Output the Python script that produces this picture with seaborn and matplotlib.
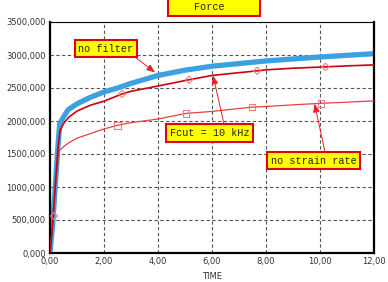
import matplotlib
matplotlib.use("Agg")
import matplotlib.pyplot as plt
import seaborn as sns
import pandas as pd
from matplotlib.patches import Rectangle

# ---------------- data ----------------
t_blue = [0, 0.1, 0.2, 0.3, 0.36, 0.5, 0.67, 1.0, 1.5, 2.0, 2.5, 3.0, 3.5, 4.0,
          4.5, 5.0, 6.0, 7.0, 8.0, 9.0, 10.0, 11.0, 12.0]
f_blue = [0, 450, 1050, 1650, 1960, 2060, 2170, 2260, 2360, 2440, 2500, 2570, 2630,
          2690, 2730, 2770, 2830, 2870, 2910, 2940, 2970, 2995, 3020]

t_fcut = [0, 0.1, 0.2, 0.3, 0.37, 0.5, 0.7, 1.0, 1.5, 2.0, 2.67, 3.0, 4.0, 5.15,
          6.0, 7.67, 8.0, 9.0, 10.2, 11.0, 12.0]
f_fcut = [0, 450, 1050, 1600, 1850, 1960, 2060, 2150, 2240, 2300, 2410, 2450, 2530,
          2625, 2690, 2760, 2775, 2800, 2820, 2835, 2850]

t_nosr = [0, 0.1, 0.2, 0.33, 0.5, 0.7, 1.0, 1.5, 2.0, 2.5, 3.0, 4.0, 5.03, 6.0,
          7.48, 8.0, 9.0, 10.04, 11.0, 12.0]
f_nosr = [0, 450, 1000, 1545, 1610, 1670, 1740, 1810, 1880, 1935, 1975, 2030, 2115,
          2145, 2210, 2220, 2245, 2268, 2285, 2305]

mk_fcut_t = [0.15, 2.67, 5.15, 7.67, 10.2]
mk_fcut_f = [560, 2410, 2625, 2760, 2820]
mk_nosr_t = [2.5, 5.03, 7.48, 10.04]
mk_nosr_f = [1935, 2115, 2210, 2268]

x_ticks = [0, 2, 4, 6, 8, 10, 12]
x_tick_labels = ["0,00", "2,00", "4,00", "6,00", "8,00", "10,00", "12,00"]
y_ticks = [0, 500, 1000, 1500, 2000, 2500, 3000, 3500]
y_tick_labels = ["0,000", "500,000", "1000,000", "1500,000", "2000,000",
                 "2500,000", "3000,000", "3500,000"]

title_text = "Force"
x_label = "TIME"
lab_nofilter = "no filter"
lab_fcut = "Fcut = 10 kHz"
lab_nosr = "no strain rate"

# ---------------- figure ----------------
sns.set_style("white")
plt.rcParams["font.family"] = ["DejaVu Sans"]
W, H = 388, 282
fig = plt.figure(figsize=(W / 100, H / 100), dpi=100)
ax = fig.add_axes([50 / W, 1 - 253 / H, (374 - 50) / W, (253 - 22) / H])

BLUE = "#3BA2DF"
DRED = "#CC0010"
LRED = "#E8403C"
MK = "#F08080"

df_n = pd.DataFrame({"t": t_nosr, "f": f_nosr})
df_c = pd.DataFrame({"t": t_fcut, "f": f_fcut})
df_b = pd.DataFrame({"t": t_blue, "f": f_blue})

sns.lineplot(data=df_n, x="t", y="f", ax=ax, color=LRED, lw=0.9, sort=False,
             estimator=None, zorder=3)
sns.lineplot(data=df_c, x="t", y="f", ax=ax, color=DRED, lw=1.2, sort=False,
             estimator=None, zorder=3)
sns.lineplot(data=df_b, x="t", y="f", ax=ax, color=BLUE, lw=3.8, sort=False,
             estimator=None, zorder=2.5)

sns.scatterplot(x=mk_fcut_t, y=mk_fcut_f, ax=ax, marker="D", s=14,
                facecolor="none", edgecolor=MK, linewidth=0.8, zorder=4)
sns.scatterplot(x=mk_nosr_t, y=mk_nosr_f, ax=ax, marker="s", s=22,
                facecolor="none", edgecolor=MK, linewidth=0.8, zorder=4)

ax.set_xlim(0, 12)
ax.set_ylim(0, 3500)
ax.set_xticks(x_ticks)
ax.set_xticklabels(x_tick_labels)
ax.set_yticks(y_ticks)
ax.set_yticklabels(y_tick_labels)
ax.tick_params(length=0, labelsize=6, labelcolor="#333333", pad=3)
ax.set_xlabel(x_label, fontsize=6, color="#333333", labelpad=4)
ax.set_ylabel("")
ax.grid(True, color="#555555", lw=0.8, ls=(0, (3, 2.2)))
for s in ["left", "bottom", "right"]:
    ax.spines[s].set_linewidth(1.6)
    ax.spines[s].set_color("black")
ax.spines["top"].set_linewidth(0.8)
ax.spines["top"].set_color("black")

MONO = ["Liberation Mono", "DejaVu Sans Mono"]


def box(x0, y0, x1, y1, text, tx=None):
    r = Rectangle((x0 / W, 1 - y1 / H), (x1 - x0) / W, (y1 - y0) / H,
                  transform=fig.transFigure, facecolor="#FFFF00",
                  edgecolor="#E0001A", lw=1.5, zorder=10)
    fig.patches.append(r)
    cx = (x0 + x1) / 2 if tx is None else tx
    fig.text(cx / W, 1 - (y0 + y1) / 2 / H, text, ha="center", va="center",
             family=MONO, fontsize=7.3, color="#222200", zorder=11)


def arrow(x_img, y_img, tdata, fdata):
    ax.annotate("", xy=(tdata, fdata), xycoords="data",
                xytext=(x_img, H - y_img), textcoords="figure pixels",
                arrowprops=dict(arrowstyle="-|>,head_length=0.5,head_width=0.2",
                                color="#E8202A", lw=0.7, shrinkA=0, shrinkB=0),
                zorder=9, annotation_clip=False)


arrow(135, 57, 3.89, 2736)
arrow(224, 124, 6.04, 2688)
arrow(325, 152, 9.8, 2262)

box(168, -2, 260, 16, title_text, tx=209)
box(75, 40, 137, 57, lab_nofilter)
box(166, 124, 253, 142, lab_fcut)
box(267, 152, 360, 169, lab_nosr)

fig.savefig("out.png", dpi=100)
